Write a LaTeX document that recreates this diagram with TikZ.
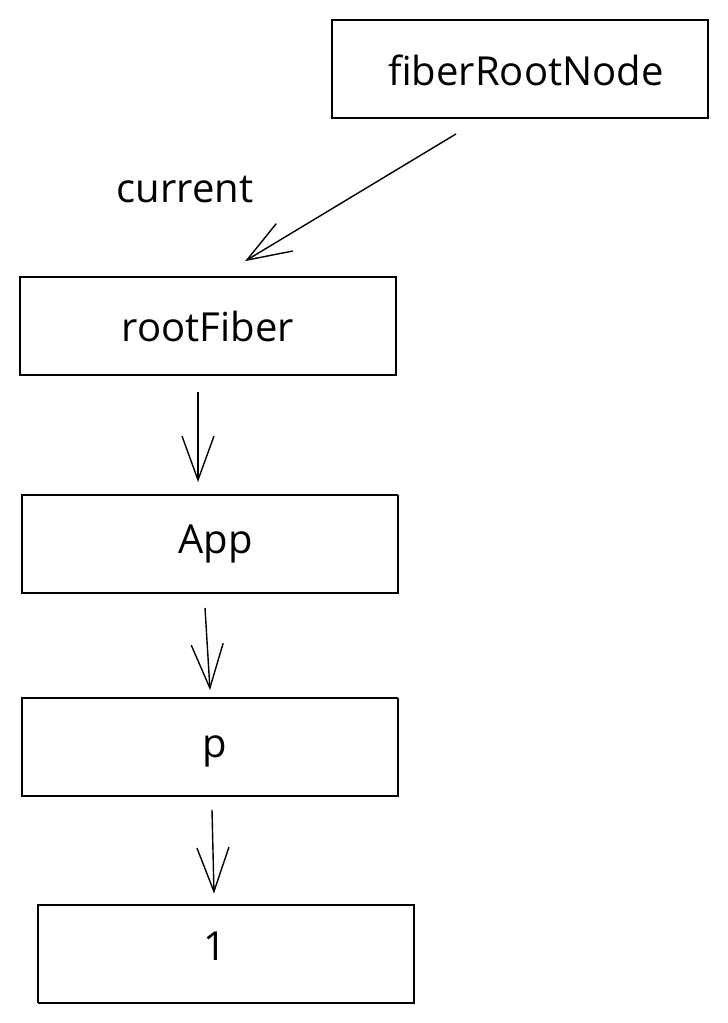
\documentclass[tikz,border=0pt]{standalone}
\usepackage{fontspec}
\setmainfont{Open Sans}
\usetikzlibrary{arrows.meta}
\tikzset{
  fibtext/.style={font=\fontsize{40}{46}\selectfont},
  fibbox/.style={draw, line width=1.8pt, minimum width=376pt, minimum height=98pt,
    inner sep=0pt, fibtext,
    preaction={draw, line width=0.9pt, transform canvas={shift={(0.9pt,-0.7pt)}}}},
  fibarr/.style={line width=1.4pt, -{Straight Barb[length=44pt, width=32pt, line width=1.4pt]}},
}
\begin{document}
\begin{tikzpicture}[x=1pt, y=-1pt]
  \useasboundingbox (0,0) rectangle (728,1023);
  \node[fibbox, label={[fibtext, xshift=6pt, yshift=-1pt]center:fiberRootNode}] (frn) at (520,69) {};
  \node[fibbox] (rf) at (208,326) {rootFiber};
  \node[fibbox, label={[fibtext, xshift=6pt]center:App}] (app) at (209.5,544) {};
  \node[fibbox, label={[fibtext, xshift=5pt, yshift=-4pt]center:p}] (p) at (209.5,747) {};
  \node[fibbox, label={[fibtext, xshift=-11pt, yshift=7pt]center:1}] (one) at (226,953.5) {};
  \node[fibtext] (cur) at (185,190) {current};
  \draw[fibarr] ([xshift=125pt,yshift=-15pt]frn.south west) -- ([xshift=226pt,yshift=15pt]rf.north west);
  \draw[fibarr] ([xshift=-10pt,yshift=-16pt]rf.south) -- ([xshift=-11.5pt,yshift=12pt]app.north);
  \draw[fibarr] ([xshift=-4.5pt,yshift=-14pt]app.south) -- ([xshift=0.5pt,yshift=7pt]p.north);
  \draw[fibarr] ([xshift=2.5pt,yshift=-13pt]p.south) -- ([xshift=-12pt,yshift=10pt]one.north);
\end{tikzpicture}
\end{document}
